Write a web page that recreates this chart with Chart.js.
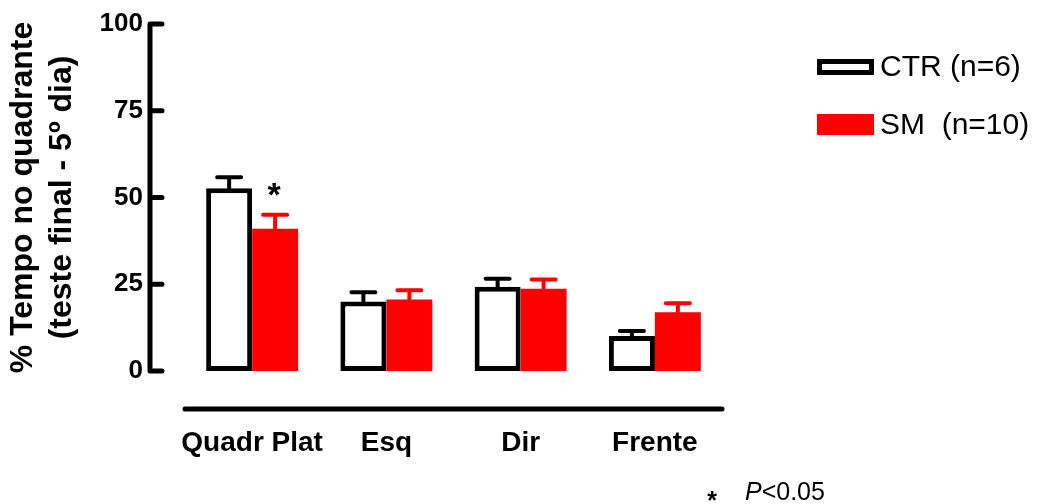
<!DOCTYPE html>
<html>
<head>
<meta charset="utf-8">
<script src="https://cdn.jsdelivr.net/npm/chart.js@4.4.0/dist/chart.umd.min.js"></script>
<style>
  html, body { margin: 0; padding: 0; background: #fff; }
</style>
</head>
<body>
<canvas id="quadranteChart" width="1043" height="504"></canvas>
<script>
// Tempo no quadrante (teste final, 5º dia) - média e EPM por grupo
const categories = ['Quadr Plat', 'Esq', 'Dir', 'Frente'];
const ctrMean = [52.7, 20.0, 24.3, 10.1];
const ctrSem = [3.1, 2.7, 2.3, 1.4];
const smMean = [41.0, 20.6, 23.7, 16.9];
const smSem = [4.0, 2.7, 2.7, 2.6];
const yTicks = [0, 25, 50, 75, 100];
const seriesLabels = ['CTR (n=6)', 'SM  (n=10)'];
const smSignificant = [true, false, false, false];

const FONT = '"Liberation Sans", Arial, Helvetica, sans-serif';
const RED = '#ff0000';

// eixos deslocados, barras de erro, legenda e anotações
const decorPlugin = {
    id: 'decor',
    afterDatasetsDraw(chart) {
        const ctx = chart.ctx;
        const y = chart.scales.y;
        const area = chart.chartArea;
        const sems = [ctrSem, smSem];
        const means = [ctrMean, smMean];
        const colors = ['#000', RED];

        ctx.save();
        ctx.lineCap = 'round';

        // barras de erro (só para cima)
        chart.data.datasets.forEach((ds, di) => {
            const meta = chart.getDatasetMeta(di);
            meta.data.forEach((bar, i) => {
                const top = y.getPixelForValue(means[di][i] + sems[di][i]);
                ctx.strokeStyle = colors[di];
                ctx.lineWidth = 4;
                ctx.beginPath();
                ctx.moveTo(bar.x, bar.y);
                ctx.lineTo(bar.x, top);
                ctx.moveTo(bar.x - 12, top);
                ctx.lineTo(bar.x + 12, top);
                ctx.stroke();
            });
        });

        // asterisco de significância sobre SM
        const smMeta = chart.getDatasetMeta(1);
        ctx.fillStyle = '#000';
        ctx.font = 'bold 34px ' + FONT;
        ctx.textAlign = 'center';
        ctx.textBaseline = 'alphabetic';
        smSignificant.forEach((sig, i) => {
            if (!sig) return;
            const top = y.getPixelForValue(smMean[i] + smSem[i]);
            ctx.fillText('*', smMeta.data[i].x - 1, top - 9);
        });

        // eixo Y afastado da área do gráfico
        const axisX = 150;
        ctx.strokeStyle = '#000';
        ctx.lineWidth = 5;
        ctx.beginPath();
        ctx.moveTo(axisX, y.getPixelForValue(yTicks[yTicks.length - 1]));
        ctx.lineTo(axisX, y.getPixelForValue(0));
        yTicks.forEach(v => {
            const py = y.getPixelForValue(v);
            ctx.moveTo(axisX, py);
            ctx.lineTo(axisX + 12, py);
        });
        ctx.stroke();

        // eixo X abaixo do zero
        const axisY = area.bottom + 38;
        ctx.beginPath();
        ctx.moveTo(area.left, axisY);
        ctx.lineTo(area.right, axisY);
        ctx.stroke();

        // legenda
        const lx = 817, boxW = 57;
        ctx.lineWidth = 5;
        ctx.lineCap = 'butt';
        ctx.fillStyle = '#fff';
        ctx.fillRect(lx + 2.5, 61.5, boxW - 5, 11);
        ctx.strokeRect(lx + 2.5, 61.5, boxW - 5, 11);
        ctx.fillStyle = RED;
        ctx.fillRect(lx, 114, boxW, 21);

        ctx.fillStyle = '#000';
        ctx.font = '30px ' + FONT;
        ctx.textAlign = 'left';
        ctx.textBaseline = 'middle';
        ctx.fillText(seriesLabels[0], 880, 68);
        ctx.fillText(seriesLabels[1], 880, 126);

        // nota de rodapé
        ctx.textBaseline = 'alphabetic';
        ctx.font = 'bold 25px ' + FONT;
        ctx.textAlign = 'center';
        ctx.fillText('*', 712, 509);
        ctx.textAlign = 'left';
        ctx.font = 'italic 25px ' + FONT;
        ctx.fillText('P', 745, 500);
        const pw = ctx.measureText('P').width;
        ctx.font = '25px ' + FONT;
        ctx.fillText('<0.05', 745 + pw, 500);

        ctx.restore();
    }
};

new Chart(document.getElementById('quadranteChart'), {
    type: 'bar',
    data: {
        labels: categories,
        datasets: [
            {
                label: seriesLabels[0],
                data: ctrMean,
                backgroundColor: '#ffffff',
                borderColor: '#000000',
                borderWidth: 5,
                borderSkipped: false
            },
            {
                label: seriesLabels[1],
                data: smMean,
                backgroundColor: RED,
                borderWidth: 0
            }
        ]
    },
    options: {
        responsive: false,
        animation: false,
        devicePixelRatio: 1,
        layout: { padding: { top: 24, right: 321, bottom: 0, left: 0 } },
        datasets: {
            bar: { categoryPercentage: 0.685, barPercentage: 1.0 }
        },
        plugins: {
            legend: { display: false },
            tooltip: { enabled: false }
        },
        scales: {
            x: {
                grid: { display: false, drawTicks: false },
                border: { display: false },
                ticks: {
                    color: '#000',
                    padding: 55,
                    autoSkip: false,
                    maxRotation: 0,
                    minRotation: 0,
                    font: { family: FONT, size: 28, weight: 'bold' }
                },
                afterFit(scale) {
                    scale.height = 133;
                    scale.paddingLeft = 0;
                    scale.paddingRight = 0;
                }
            },
            y: {
                min: 0,
                max: 100,
                grid: { display: false, drawTicks: false },
                border: { display: false },
                ticks: {
                    stepSize: 25,
                    color: '#000',
                    padding: 42,
                    font: { family: FONT, size: 26, weight: 'bold' }
                },
                title: {
                    display: true,
                    text: ['% Tempo no quadrante', '(teste final - 5º dia)'],
                    color: '#000',
                    padding: { top: 4, bottom: 0 },
                    font: { family: FONT, size: 32, weight: 'bold', lineHeight: 1.22 }
                },
                afterFit(scale) {
                    scale.width = 185;
                    scale.paddingTop = 0;
                    scale.paddingBottom = 0;
                }
            }
        }
    },
    plugins: [decorPlugin]
});
</script>
</body>
</html>
